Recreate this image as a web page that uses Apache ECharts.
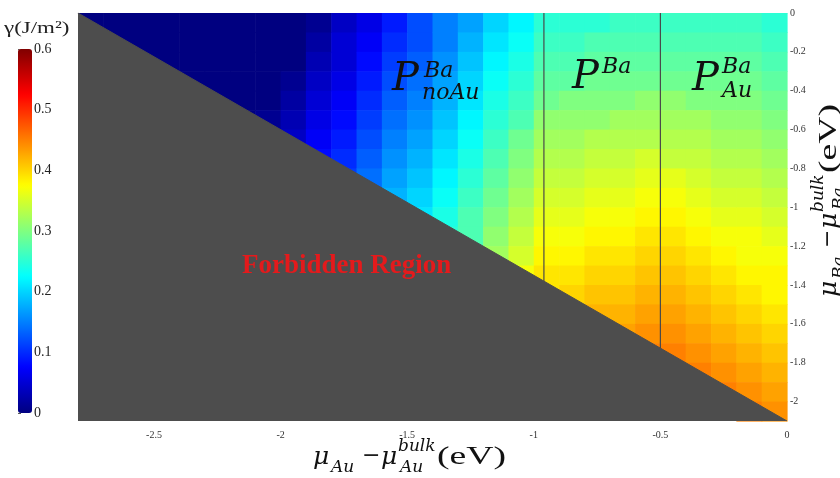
<!DOCTYPE html>
<html>
<head>
<meta charset="utf-8">
<script src="https://cdn.jsdelivr.net/npm/echarts@6/dist/echarts.min.js"></script>
<style>
html, body { margin: 0; padding: 0; background: #fff; }
#chart { width: 840px; height: 478px; }
</style>
</head>
<body>
<div id="chart"></div>
<script>
// cell centres of the surface-energy map (eV)
var muAu = [-2.75, -2.65, -2.55, -2.45, -2.35, -2.25, -2.15, -2.05, -1.95, -1.85,
            -1.75, -1.65, -1.55, -1.45, -1.35, -1.25, -1.15, -1.05, -0.95, -0.85,
            -0.75, -0.65, -0.55, -0.45, -0.35, -0.25, -0.15, -0.05];
var muBa = [-0.05, -0.15, -0.25, -0.35, -0.45, -0.55, -0.65, -0.75, -0.85, -0.95,
            -1.05, -1.15, -1.25, -1.35, -1.45, -1.55, -1.65, -1.75, -1.85, -1.95, -2.05];

// gamma (J/m2), one list per muAu column, top (muBa = 0) downwards to the forbidden edge
var gammaCols = [
  [0],
  [0, 0],
  [0, 0, 0],
  [0, 0, 0],
  [0, 0, 0, 0],
  [0, 0, 0, 0, 0],
  [0, 0, 0, 0, 0, 0],
  [0, 0, 0, 0, 0, 0.01],
  [0, 0, 0, 0.01, 0.02, 0.03, 0.04],
  [0.01, 0.02, 0.03, 0.04, 0.05, 0.06, 0.07, 0.08],
  [0.04, 0.05, 0.05, 0.06, 0.07, 0.08, 0.09, 0.10, 0.11],
  [0.06, 0.07, 0.08, 0.09, 0.10, 0.11, 0.12, 0.13, 0.14],
  [0.09, 0.10, 0.11, 0.12, 0.13, 0.14, 0.15, 0.16, 0.17, 0.18],
  [0.12, 0.12, 0.13, 0.14, 0.15, 0.16, 0.17, 0.18, 0.19, 0.20, 0.21],
  [0.15, 0.15, 0.16, 0.17, 0.18, 0.19, 0.20, 0.21, 0.22, 0.23, 0.24, 0.25],
  [0.17, 0.18, 0.19, 0.20, 0.21, 0.22, 0.23, 0.24, 0.25, 0.26, 0.27, 0.27],
  [0.20, 0.21, 0.22, 0.23, 0.24, 0.25, 0.26, 0.27, 0.28, 0.29, 0.30, 0.31, 0.32],
  [0.22, 0.23, 0.24, 0.25, 0.26, 0.27, 0.29, 0.30, 0.31, 0.32, 0.33, 0.34, 0.35, 0.37],
  [0.25, 0.26, 0.27, 0.28, 0.29, 0.31, 0.32, 0.33, 0.34, 0.35, 0.36, 0.37, 0.38, 0.39, 0.39],
  [0.25, 0.26, 0.27, 0.28, 0.30, 0.31, 0.32, 0.33, 0.34, 0.35, 0.36, 0.37, 0.38, 0.39, 0.40],
  [0.25, 0.27, 0.28, 0.29, 0.30, 0.31, 0.33, 0.34, 0.35, 0.36, 0.37, 0.38, 0.39, 0.40, 0.41, 0.42],
  [0.26, 0.27, 0.28, 0.29, 0.30, 0.32, 0.33, 0.34, 0.35, 0.36, 0.37, 0.38, 0.39, 0.40, 0.41, 0.42, 0.43],
  [0.26, 0.27, 0.28, 0.29, 0.31, 0.32, 0.33, 0.35, 0.36, 0.37, 0.38, 0.39, 0.40, 0.41, 0.42, 0.43, 0.44, 0.45],
  [0.26, 0.27, 0.28, 0.29, 0.31, 0.32, 0.33, 0.34, 0.36, 0.37, 0.38, 0.39, 0.40, 0.41, 0.42, 0.43, 0.44, 0.45],
  [0.26, 0.27, 0.28, 0.29, 0.30, 0.32, 0.33, 0.34, 0.35, 0.36, 0.37, 0.38, 0.39, 0.40, 0.41, 0.42, 0.43, 0.44, 0.45],
  [0.26, 0.27, 0.28, 0.29, 0.30, 0.31, 0.32, 0.33, 0.34, 0.35, 0.36, 0.37, 0.38, 0.39, 0.40, 0.41, 0.42, 0.43, 0.44, 0.45],
  [0.26, 0.27, 0.28, 0.29, 0.30, 0.31, 0.32, 0.33, 0.34, 0.35, 0.36, 0.37, 0.37, 0.38, 0.39, 0.40, 0.41, 0.42, 0.43, 0.44, 0.45],
  [0.25, 0.26, 0.27, 0.28, 0.29, 0.30, 0.31, 0.32, 0.33, 0.34, 0.35, 0.36, 0.37, 0.38, 0.38, 0.39, 0.40, 0.41, 0.42, 0.43, 0.44]
];

var forbiddenEdge = [[-2.8, 0], [0, -2.1]];
var boundaryNoAu = [[-0.96, 0], [-0.96, -1.38]];
var boundaryAu = [[-0.5, 0], [-0.5, -1.725]];

var xTicks = [-2.5, -2, -1.5, -1, -0.5, 0];
var yTicks = [0, -0.2, -0.4, -0.6, -0.8, -1, -1.2, -1.4, -1.6, -1.8, -2];

var jet = ['#000080', '#0000ff', '#0080ff', '#00ffff', '#80ff80', '#ffff00', '#ff8000', '#ff0000', '#800000'];

var cells = [];
gammaCols.forEach(function (col, i) {
    col.forEach(function (g, j) {
        cells.push([muAu[i], muBa[j], g]);
    });
});

var half = 0.05;
var serif = 'Liberation Serif';
var math = 'DejaVu Serif';

function txt(x, y, s, font, fill, sx) {
    return {
        type: 'text', x: x, y: y, z: 100, silent: true,
        scaleX: sx || 1,
        style: { text: s, font: font, fill: fill || '#111', align: 'left', verticalAlign: 'middle' }
    };
}

// pieces of  mu_X - mu_X^bulk (eV), laid out from a local origin
function muLabel(sub) {
    return [
        txt(0, 0, 'μ', 'italic 25px ' + math),
        txt(18, 11, sub, 'italic 17px ' + math),
        txt(49, -1, '−', '22px ' + math),
        txt(68, 0, 'μ', 'italic 25px ' + math),
        txt(85, -10, 'bulk', 'italic 17px ' + math),
        txt(87, 11, sub, 'italic 17px ' + math),
        txt(124, 0, '(eV)', '26px ' + serif, '#111', 1.45)
    ];
}

var chart = echarts.init(document.getElementById('chart'));
chart.setOption({
    animation: false,
    grid: [
        { left: 78, right: 53, top: 13, bottom: 57 },
        { left: 18, top: 49, width: 14, height: 364 }
    ],
    xAxis: [
        {
            type: 'value', min: -2.8, max: 0,
            axisLine: { show: true, lineStyle: { color: '#c8c8c8' } },
            axisTick: { show: false },
            splitLine: { show: false },
            axisLabel: { customValues: xTicks, fontFamily: serif, fontSize: 10, color: '#333', margin: 9 }
        },
        { type: 'value', gridIndex: 1, show: false, min: 0, max: 1 }
    ],
    yAxis: [
        {
            type: 'value', min: -2.1, max: 0, position: 'right',
            axisLine: { show: false },
            axisTick: { show: false },
            splitLine: { show: false },
            axisLabel: { customValues: yTicks, fontFamily: serif, fontSize: 10, color: '#333', margin: 3 }
        },
        {
            type: 'value', gridIndex: 1, min: 0, max: 0.6, interval: 0.1, position: 'right',
            axisLine: { show: false },
            axisTick: { show: true, length: 3, lineStyle: { color: '#555' } },
            splitLine: { show: false },
            axisLabel: { fontFamily: serif, fontSize: 14, color: '#222', margin: 2 }
        }
    ],
    visualMap: {
        type: 'continuous',
        seriesIndex: 0,
        dimension: 2,
        min: 0, max: 0.6,
        inRange: { color: jet },
        calculable: false,
        left: 18, top: 49,
        itemWidth: 14, itemHeight: 364,
        padding: 0
    },
    series: [
        {
            type: 'custom',
            data: cells,
            encode: { x: 0, y: 1 },
            silent: true,
            z: 1,
            renderItem: function (params, api) {
                var a = api.coord([api.value(0) - half, api.value(1) + half]);
                var b = api.coord([api.value(0) + half, api.value(1) - half]);
                return {
                    type: 'rect',
                    shape: { x: a[0], y: a[1], width: b[0] - a[0] + 0.6, height: b[1] - a[1] + 0.6 },
                    style: { fill: api.visual('color') }
                };
            }
        },
        {
            type: 'line', data: forbiddenEdge, symbol: 'none', silent: true, z: 3,
            lineStyle: { color: '#4d4d4d', width: 1 },
            areaStyle: { color: '#4d4d4d', opacity: 1, origin: 'start' }
        },
        {
            type: 'line', data: boundaryNoAu, symbol: 'none', silent: true, z: 4,
            lineStyle: { color: '#4a4a4a', width: 1.2 }
        },
        {
            type: 'line', data: boundaryAu, symbol: 'none', silent: true, z: 4,
            lineStyle: { color: '#4a4a4a', width: 1.2 }
        }
    ],
    graphic: [
        txt(4, 29, 'γ(J/m²)', '17px ' + serif, '#222', 1.35),
        { type: 'group', x: 313, y: 457, z: 100, children: muLabel('Au') },
        { type: 'group', x: 829, y: 297, z: 100, rotation: Math.PI / 2, children: muLabel('Ba') },
        txt(242, 266, 'Forbidden Region', 'bold 27px ' + serif, '#e41a1c'),
        txt(392, 80, 'P', 'italic 40px ' + math),
        txt(424, 71, 'Ba', 'italic 22px ' + math),
        txt(422, 93, 'noAu', 'italic 22px ' + math),
        txt(572, 78, 'P', 'italic 40px ' + math),
        txt(602, 67, 'Ba', 'italic 22px ' + math),
        txt(692, 80, 'P', 'italic 40px ' + math),
        txt(722, 67, 'Ba', 'italic 22px ' + math),
        txt(722, 91, 'Au', 'italic 22px ' + math)
    ]
});
</script>
</body>
</html>
